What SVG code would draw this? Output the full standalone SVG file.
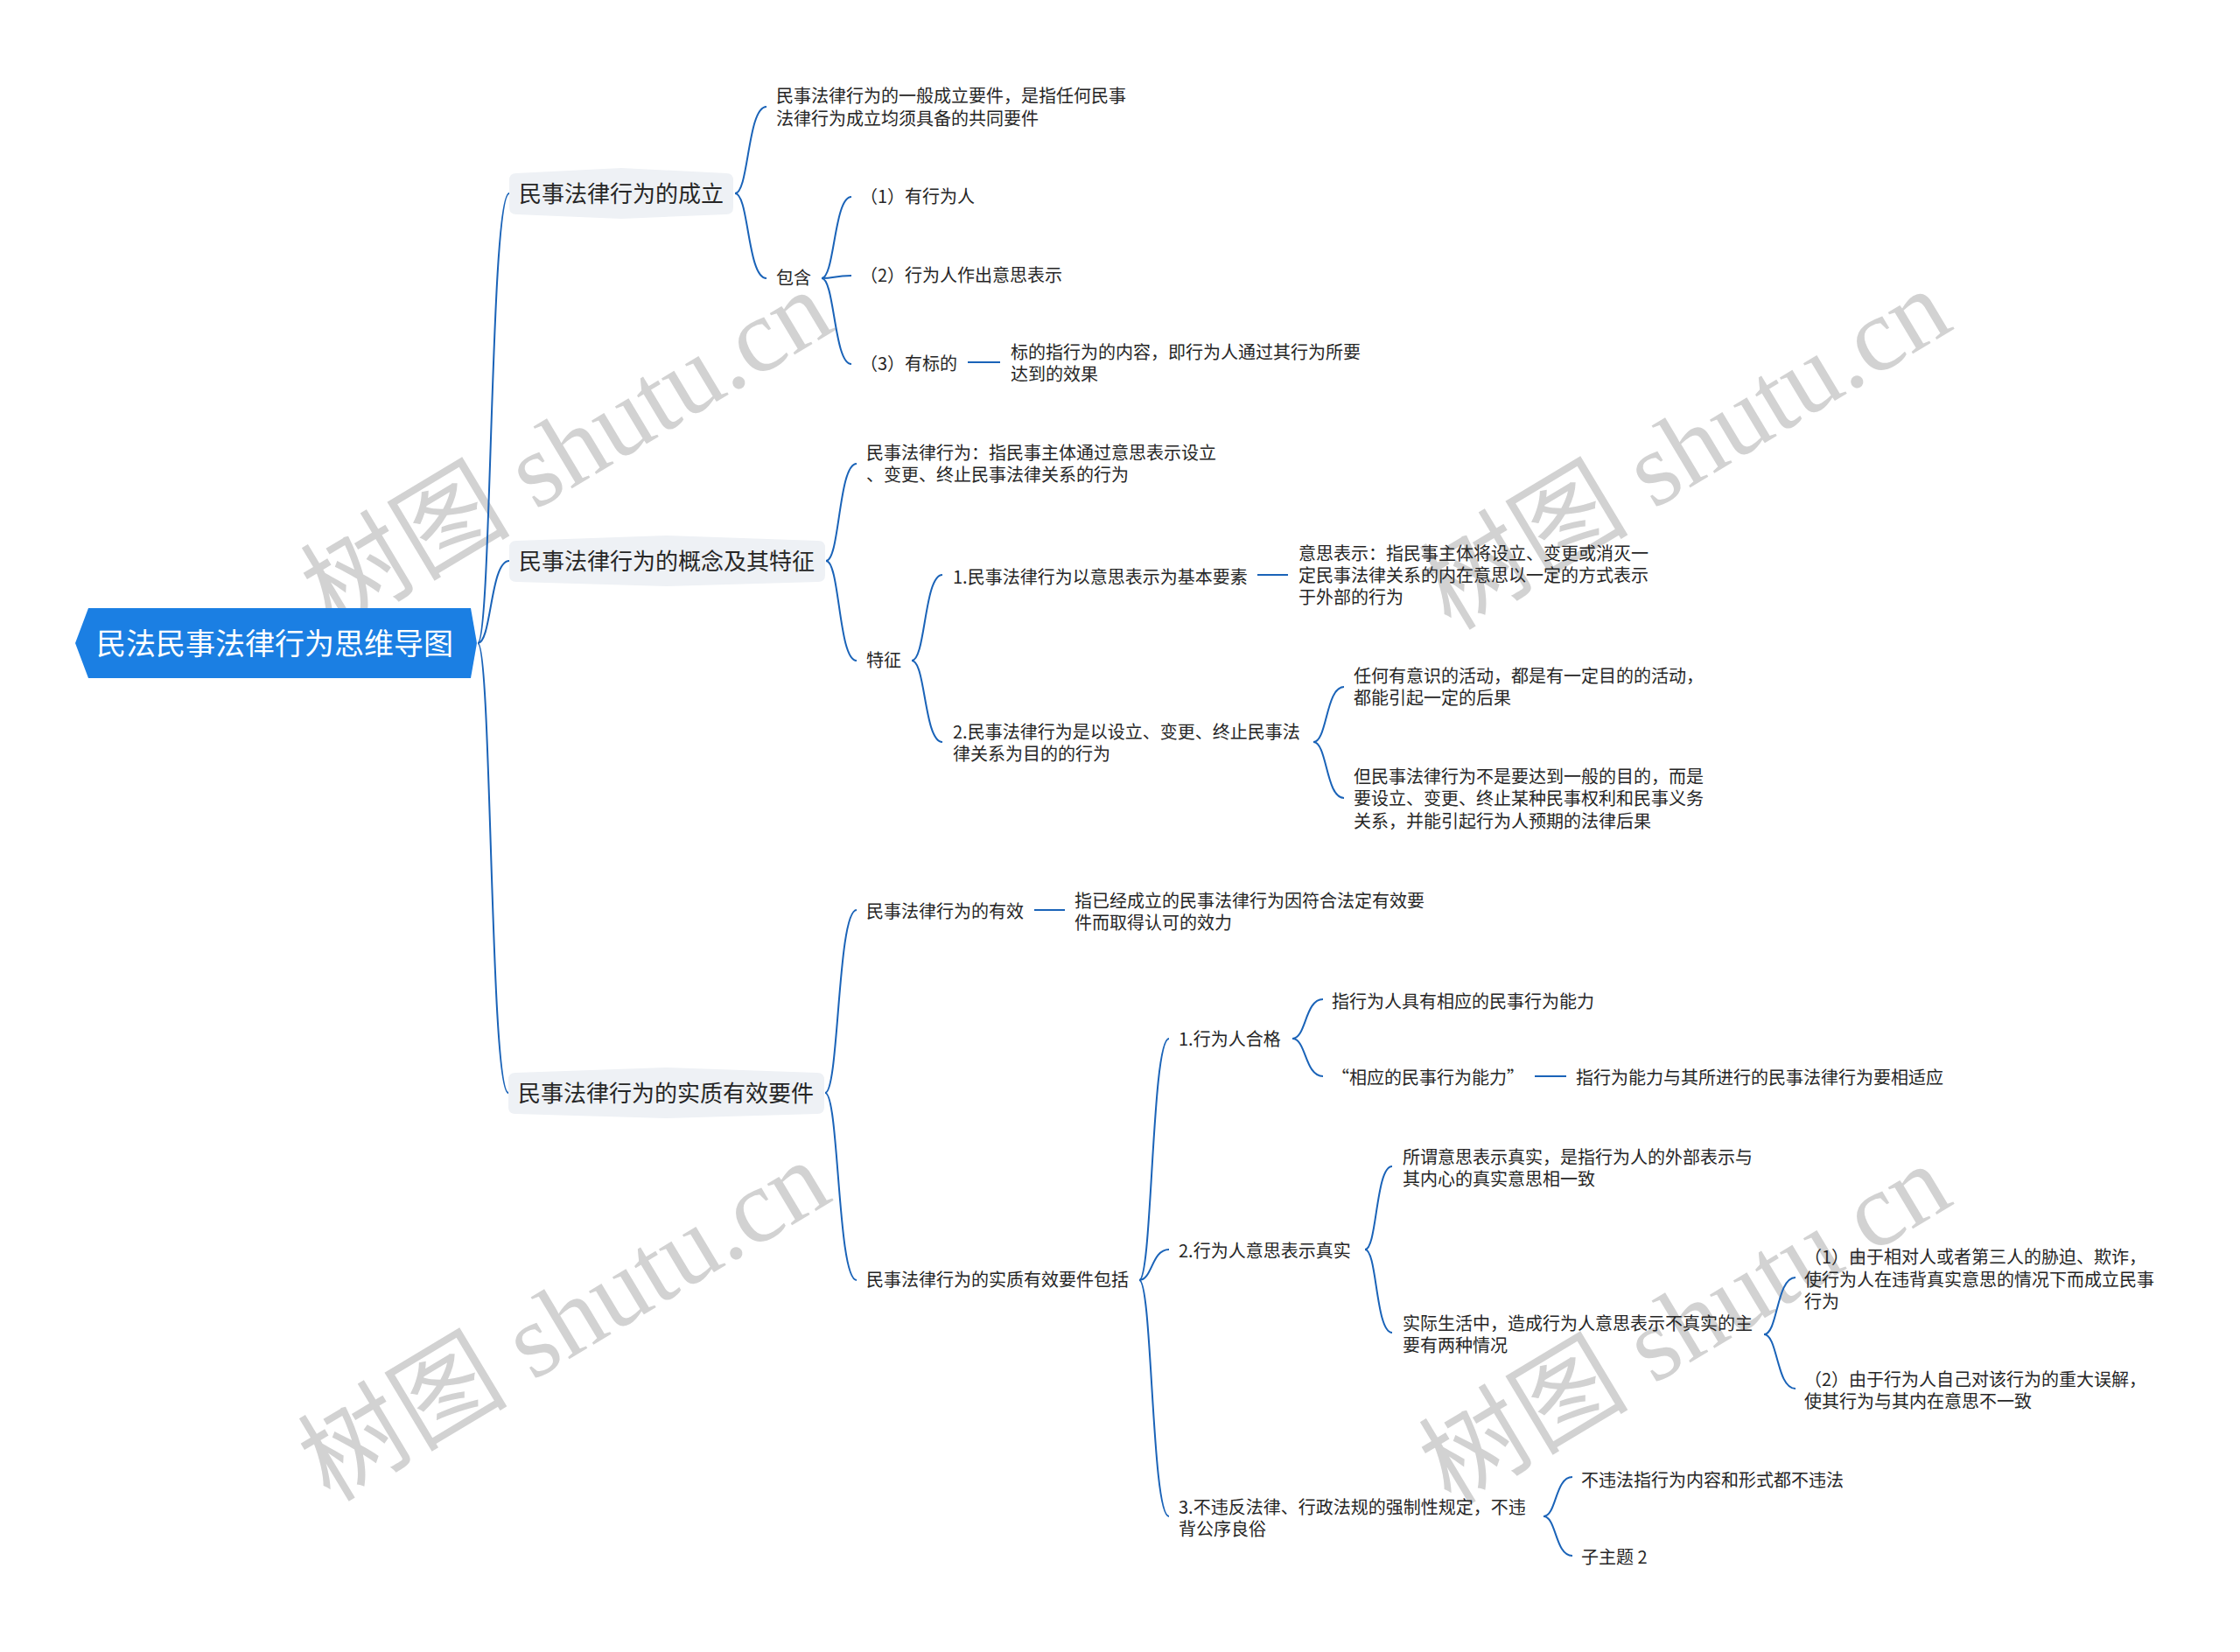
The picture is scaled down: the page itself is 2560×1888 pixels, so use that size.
<svg xmlns="http://www.w3.org/2000/svg" width="2560" height="1888" viewBox="0 0 2560 1888">
<style>
.wm{font-family:"Liberation Serif","Noto Sans CJK SC",serif;font-size:120px;fill:#d2d2d2;text-anchor:middle}
.conn{fill:none;stroke:#1a63b8;stroke-width:2}
.t{font-family:"Noto Sans CJK SC","Noto Sans",sans-serif;font-size:20px;fill:#262626}
.b{font-family:"Noto Sans CJK SC","Noto Sans",sans-serif;font-size:26px;fill:#262626;text-anchor:middle}
.r{font-family:"Noto Sans CJK SC","Noto Sans",sans-serif;font-size:34px;fill:#ffffff;text-anchor:middle}
.bbox{fill:#eef1f5}
</style>
<rect width="2560" height="1888" fill="#ffffff"/>
<g id="watermarks">
<text class="wm" transform="translate(648,515) rotate(-31)" y="40">树图 shutu.cn</text>
<text class="wm" transform="translate(1926,514) rotate(-31)" y="40">树图 shutu.cn</text>
<text class="wm" transform="translate(645,1510) rotate(-31)" y="40">树图 shutu.cn</text>
<text class="wm" transform="translate(1926,1514) rotate(-31)" y="40">树图 shutu.cn</text>
</g>
<g id="connectors">
<path class="conn" d="M546 735 C562 735 560 221 582 221"/>
<path class="conn" d="M546 735 C562 735 560 641 582 641"/>
<path class="conn" d="M546 735 C562 735 560 1249 581 1249"/>
<path class="conn" d="M840 221 C856 221 854 122 876 122"/>
<path class="conn" d="M840 221 C856 221 854 318 876 318"/>
<path class="conn" d="M939 318 C954 318 953 225 973 225"/>
<path class="conn" d="M939 318 C954 318 953 315 973 315"/>
<path class="conn" d="M939 318 C954 318 953 416 973 416"/>
<path class="conn" d="M1106 414 L1143 414"/>
<path class="conn" d="M944 641 C960 641 958 530 979 530"/>
<path class="conn" d="M944 641 C960 641 958 755 979 755"/>
<path class="conn" d="M1042 755 C1058 755 1056 657 1077 657"/>
<path class="conn" d="M1042 755 C1058 755 1056 848 1077 848"/>
<path class="conn" d="M1437 657 L1472 657"/>
<path class="conn" d="M1501 848 C1517 848 1515 785 1536 785"/>
<path class="conn" d="M1501 848 C1517 848 1515 912 1536 912"/>
<path class="conn" d="M943 1249 C959 1249 957 1040 979 1040"/>
<path class="conn" d="M943 1249 C959 1249 957 1463 979 1463"/>
<path class="conn" d="M1182 1040 L1217 1040"/>
<path class="conn" d="M1302 1463 C1317 1463 1316 1187 1336 1187"/>
<path class="conn" d="M1302 1463 C1317 1463 1316 1428 1336 1428"/>
<path class="conn" d="M1302 1463 C1317 1463 1316 1733 1336 1733"/>
<path class="conn" d="M1477 1187 C1493 1187 1491 1142 1512 1142"/>
<path class="conn" d="M1477 1187 C1493 1187 1491 1230 1512 1230"/>
<path class="conn" d="M1754 1230 L1790 1230"/>
<path class="conn" d="M1560 1428 C1574 1428 1572 1333 1591 1333"/>
<path class="conn" d="M1560 1428 C1574 1428 1572 1523 1591 1523"/>
<path class="conn" d="M2016 1525 C2032 1525 2030 1460 2052 1460"/>
<path class="conn" d="M2016 1525 C2032 1525 2030 1587 2052 1587"/>
<path class="conn" d="M1764 1733 C1779 1733 1777 1688 1797 1688"/>
<path class="conn" d="M1764 1733 C1779 1733 1777 1778 1797 1778"/>
</g>
<g id="root">
<polygon points="86,735 101,695 538,695 545,735 538,775 101,775" fill="#1b7fe3"/>
<text class="r" x="314" y="748">民法民事法律行为思维导图</text>
</g>
<g id="b1">
<path class="bbox" d="M590 198 L710 192 L830 198 Q838 198 838 206 L838 237 Q838 245 830 245 L710 250 L590 245 Q582 245 582 237 L582 206 Q582 198 590 198 Z"/>
<text class="b" x="710" y="231">民事法律行为的成立</text>
</g>
<g id="b2">
<path class="bbox" d="M590 618 L762 612 L935 618 Q943 618 943 626 L943 657 Q943 665 935 665 L762 670 L590 665 Q582 665 582 657 L582 626 Q582 618 590 618 Z"/>
<text class="b" x="762" y="651">民事法律行为的概念及其特征</text>
</g>
<g id="b3">
<path class="bbox" d="M589 1226 L761 1220 L934 1226 Q942 1226 942 1234 L942 1265 Q942 1273 934 1273 L761 1278 L589 1273 Q581 1273 581 1265 L581 1234 Q581 1226 589 1226 Z"/>
<text class="b" x="761" y="1259">民事法律行为的实质有效要件</text>
</g>
<g id="n-general"><text class="t" x="887" y="117">民事法律行为的一般成立要件，是指任何民事</text><text class="t" x="887" y="143">法律行为成立均须具备的共同要件</text></g>
<g id="n-baohan"><text class="t" x="887" y="325">包含</text></g>
<g id="n-p1"><text class="t" x="983" y="232">（1）有行为人</text></g>
<g id="n-p2"><text class="t" x="983" y="322">（2）行为人作出意思表示</text></g>
<g id="n-p3"><text class="t" x="983" y="423">（3）有标的</text></g>
<g id="n-p3d"><text class="t" x="1155" y="410">标的指行为的内容，即行为人通过其行为所要</text><text class="t" x="1155" y="435">达到的效果</text></g>
<g id="n-def"><text class="t" x="990" y="525">民事法律行为：指民事主体通过意思表示设立</text><text class="t" x="990" y="550">、变更、终止民事法律关系的行为</text></g>
<g id="n-tezheng"><text class="t" x="990" y="762">特征</text></g>
<g id="n-f1"><text class="t" x="1089" y="667">1.民事法律行为以意思表示为基本要素</text></g>
<g id="n-f1d"><text class="t" x="1484" y="640">意思表示：指民事主体将设立、变更或消灭一</text><text class="t" x="1484" y="665">定民事法律关系的内在意思以一定的方式表示</text><text class="t" x="1484" y="690">于外部的行为</text></g>
<g id="n-f2"><text class="t" x="1089" y="844">2.民事法律行为是以设立、变更、终止民事法</text><text class="t" x="1089" y="869">律关系为目的的行为</text></g>
<g id="n-f2a"><text class="t" x="1547" y="780">任何有意识的活动，都是有一定目的的活动，</text><text class="t" x="1547" y="805">都能引起一定的后果</text></g>
<g id="n-f2b"><text class="t" x="1547" y="895">但民事法律行为不是要达到一般的目的，而是</text><text class="t" x="1547" y="920">要设立、变更、终止某种民事权利和民事义务</text><text class="t" x="1547" y="946">关系，并能引起行为人预期的法律后果</text></g>
<g id="n-youxiao"><text class="t" x="990" y="1049">民事法律行为的有效</text></g>
<g id="n-youxiaod"><text class="t" x="1228" y="1037">指已经成立的民事法律行为因符合法定有效要</text><text class="t" x="1228" y="1062">件而取得认可的效力</text></g>
<g id="n-baokuo"><text class="t" x="990" y="1470">民事法律行为的实质有效要件包括</text></g>
<g id="n-c1"><text class="t" x="1347" y="1195">1.行为人合格</text></g>
<g id="n-c1a"><text class="t" x="1522" y="1152">指行为人具有相应的民事行为能力</text></g>
<g id="n-c1b"><text class="t" x="1522" y="1239">“相应的民事行为能力”</text></g>
<g id="n-c1bd"><text class="t" x="1801" y="1239">指行为能力与其所进行的民事法律行为要相适应</text></g>
<g id="n-c2"><text class="t" x="1347" y="1437">2.行为人意思表示真实</text></g>
<g id="n-c2a"><text class="t" x="1603" y="1330">所谓意思表示真实，是指行为人的外部表示与</text><text class="t" x="1603" y="1355">其内心的真实意思相一致</text></g>
<g id="n-c2b"><text class="t" x="1603" y="1520">实际生活中，造成行为人意思表示不真实的主</text><text class="t" x="1603" y="1545">要有两种情况</text></g>
<g id="n-c2b1"><text class="t" x="2062" y="1444">（1）由于相对人或者第三人的胁迫、欺诈，</text><text class="t" x="2062" y="1470">使行为人在违背真实意思的情况下而成立民事</text><text class="t" x="2062" y="1495">行为</text></g>
<g id="n-c2b2"><text class="t" x="2062" y="1584">（2）由于行为人自己对该行为的重大误解，</text><text class="t" x="2062" y="1609">使其行为与其内在意思不一致</text></g>
<g id="n-c3"><text class="t" x="1347" y="1730">3.不违反法律、行政法规的强制性规定，不违</text><text class="t" x="1347" y="1755">背公序良俗</text></g>
<g id="n-c3a"><text class="t" x="1807" y="1699">不违法指行为内容和形式都不违法</text></g>
<g id="n-c3b"><text class="t" x="1807" y="1787">子主题 2</text></g>
</svg>
